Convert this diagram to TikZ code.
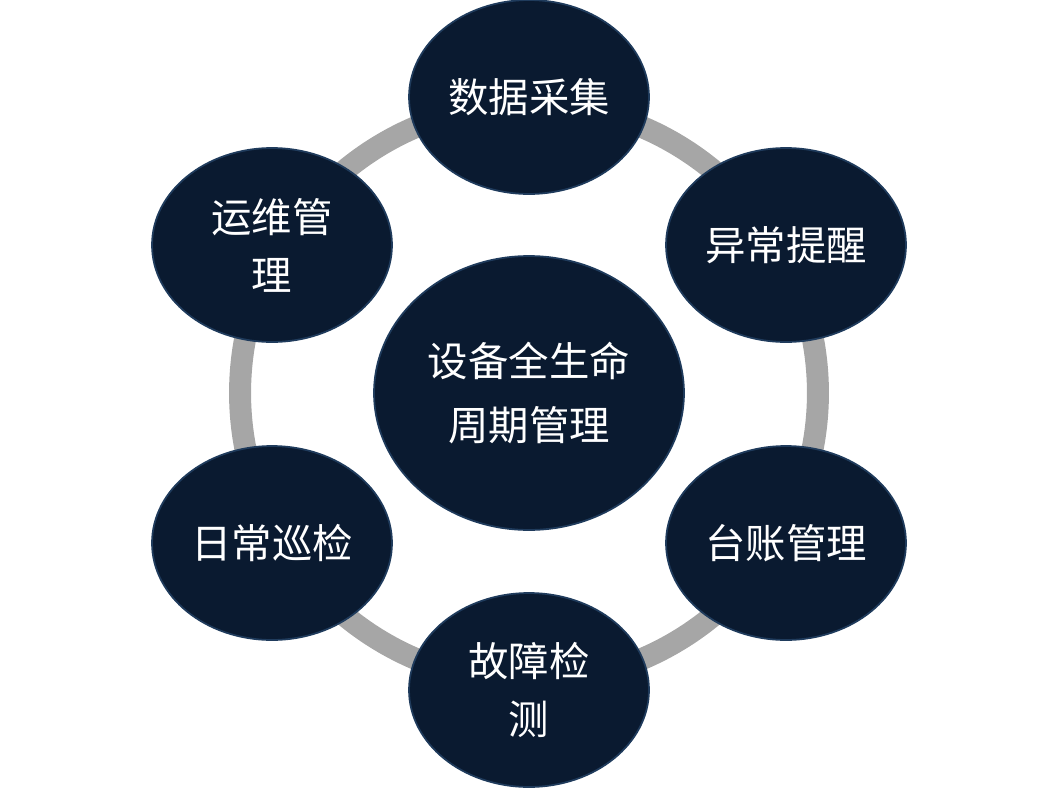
\documentclass[tikz,border=0pt]{standalone}
\usepackage{fontspec}
\setmainfont{Noto Sans CJK SC}
\usetikzlibrary{shapes.geometric}
\definecolor{navy}{HTML}{0A1A30}
\definecolor{rim}{HTML}{1F3B5C}
\definecolor{ringgray}{HTML}{A6A6A6}
\tikzset{
  stage/.style={ellipse, fill=navy, draw=rim, line width=1pt,
    minimum width=4.8cm, minimum height=3.88cm, text=white, inner sep=0pt,
    align=center, font=\fontsize{23}{33}\selectfont},
  hub/.style={stage, minimum width=6.2cm, minimum height=5.48cm,
    font=\fontsize{23}{36}\selectfont}
}
\begin{document}
\begin{tikzpicture}[x=0.02cm,y=-0.02cm]
    \useasboundingbox (0,0) rectangle (1062,788);
    % ring
    \draw[ringgray, line width=0.44cm] (529,393) circle (5.78cm);

    % hub
    \node[hub] (core) at (529,393) {设备全生命\\周期管理};

    % stages
    \node[stage] (collect) at (529,97) {数据采集};
    \node[stage] (alert) at (786,245) {异常提醒};
    \node[stage] (ledger) at (786,543) {台账管理};
    \node[stage] (fault) at (529,690) {故障检\\测};
    \node[stage] (patrol) at (272,543) {日常巡检};
    \node[stage] (ops) at (272,245) {运维管\\理};
\end{tikzpicture}
\end{document}
